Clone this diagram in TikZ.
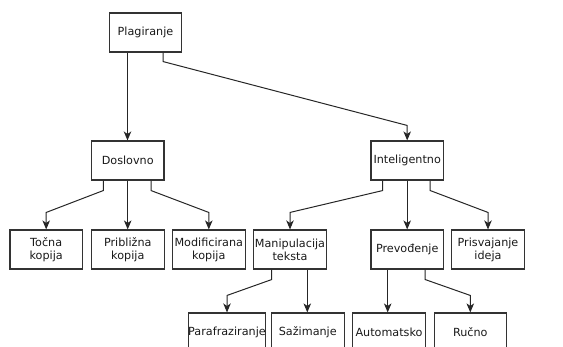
\documentclass[tikz,border=0pt]{standalone}
\usepackage{fontspec}
\setmainfont{DejaVu Sans}
\usetikzlibrary{calc,arrows.meta}
\begin{document}
\begin{tikzpicture}[x=1pt,y=-1pt,
  box/.style={draw=black!80,line width=1.1pt,rectangle,minimum width=72.5pt,minimum height=39pt,inner sep=0pt,align=center,font=\fontsize{11.2}{13}\selectfont,text=black!90},
  arr/.style={draw=black!85,line width=1pt,-{Stealth[length=9pt,width=7.5pt,inset=2.5pt]}}]
\useasboundingbox (0,0) rectangle (563,347);
\clip (0,0) rectangle (563,347);
% nodes
\node[box] (P) at (145.5,32.5) {Plagiranje};
\node[box] (D) at (127.7,160.5) {Doslovno};
\node[box] (I) at (407.2,160.5) {Inteligentno};
\node[box] (T) at (46.2,249.5) {Točna\\kopija};
\node[box] (B) at (127.8,249.5) {Približna\\kopija};
\node[box] (M) at (208.8,249.5) {Modificirana\\kopija};
\node[box] (MT) at (290,249.5) {Manipulacija\\teksta};
\node[box] (PR) at (407.2,249.5) {Prevođenje};
\node[box] (PI) at (488,249.5) {Prisvajanje\\ideja};
\node[box] (PA) at (227,332.5) {Parafraziranje};
\node[box] (S) at (307.8,332.5) {Sažimanje};
\node[box] (A) at (389,332.5) {Automatsko};
\node[box] (R) at (470.3,332.5) {Ručno};
% connectors
\draw[arr] ([xshift=-18pt]P.south) -- ([xshift=-18pt]P.south |- D.north);
\draw[arr] ([xshift=17.5pt]P.south) -- ++(0,9) -- ($(I.north)+(0,-15)$) -- (I.north);
\draw[arr] ([xshift=-24.4pt]D.south) -- ++(0,10) -- ($(T.north)+(0,-17)$) -- (T.north);
\draw[arr] (D.south) -- (D.south |- B.north);
\draw[arr] ([xshift=23.3pt]D.south) -- ++(0,10) -- ($(M.north)+(0,-17)$) -- (M.north);
\draw[arr] ([xshift=-24.5pt]I.south) -- ++(0,10) -- ($(MT.north)+(0,-17)$) -- (MT.north);
\draw[arr] (I.south) -- (I.south |- PR.north);
\draw[arr] ([xshift=23pt]I.south) -- ++(0,10) -- ($(PI.north)+(0,-17)$) -- (PI.north);
\draw[arr] ([xshift=-18.3pt]MT.south) -- ++(0,10) -- ($(PA.north)+(0,-17)$) -- (PA.north);
\draw[arr] ([xshift=17.3pt]MT.south) -- ([xshift=17.3pt]MT.south |- S.north);
\draw[arr] ([xshift=-19.5pt]PR.south) -- ([xshift=-19.5pt]PR.south |- A.north);
\draw[arr] ([xshift=18pt]PR.south) -- ++(0,10) -- ($(R.north)+(0,-17)$) -- (R.north);
\end{tikzpicture}
\end{document}
